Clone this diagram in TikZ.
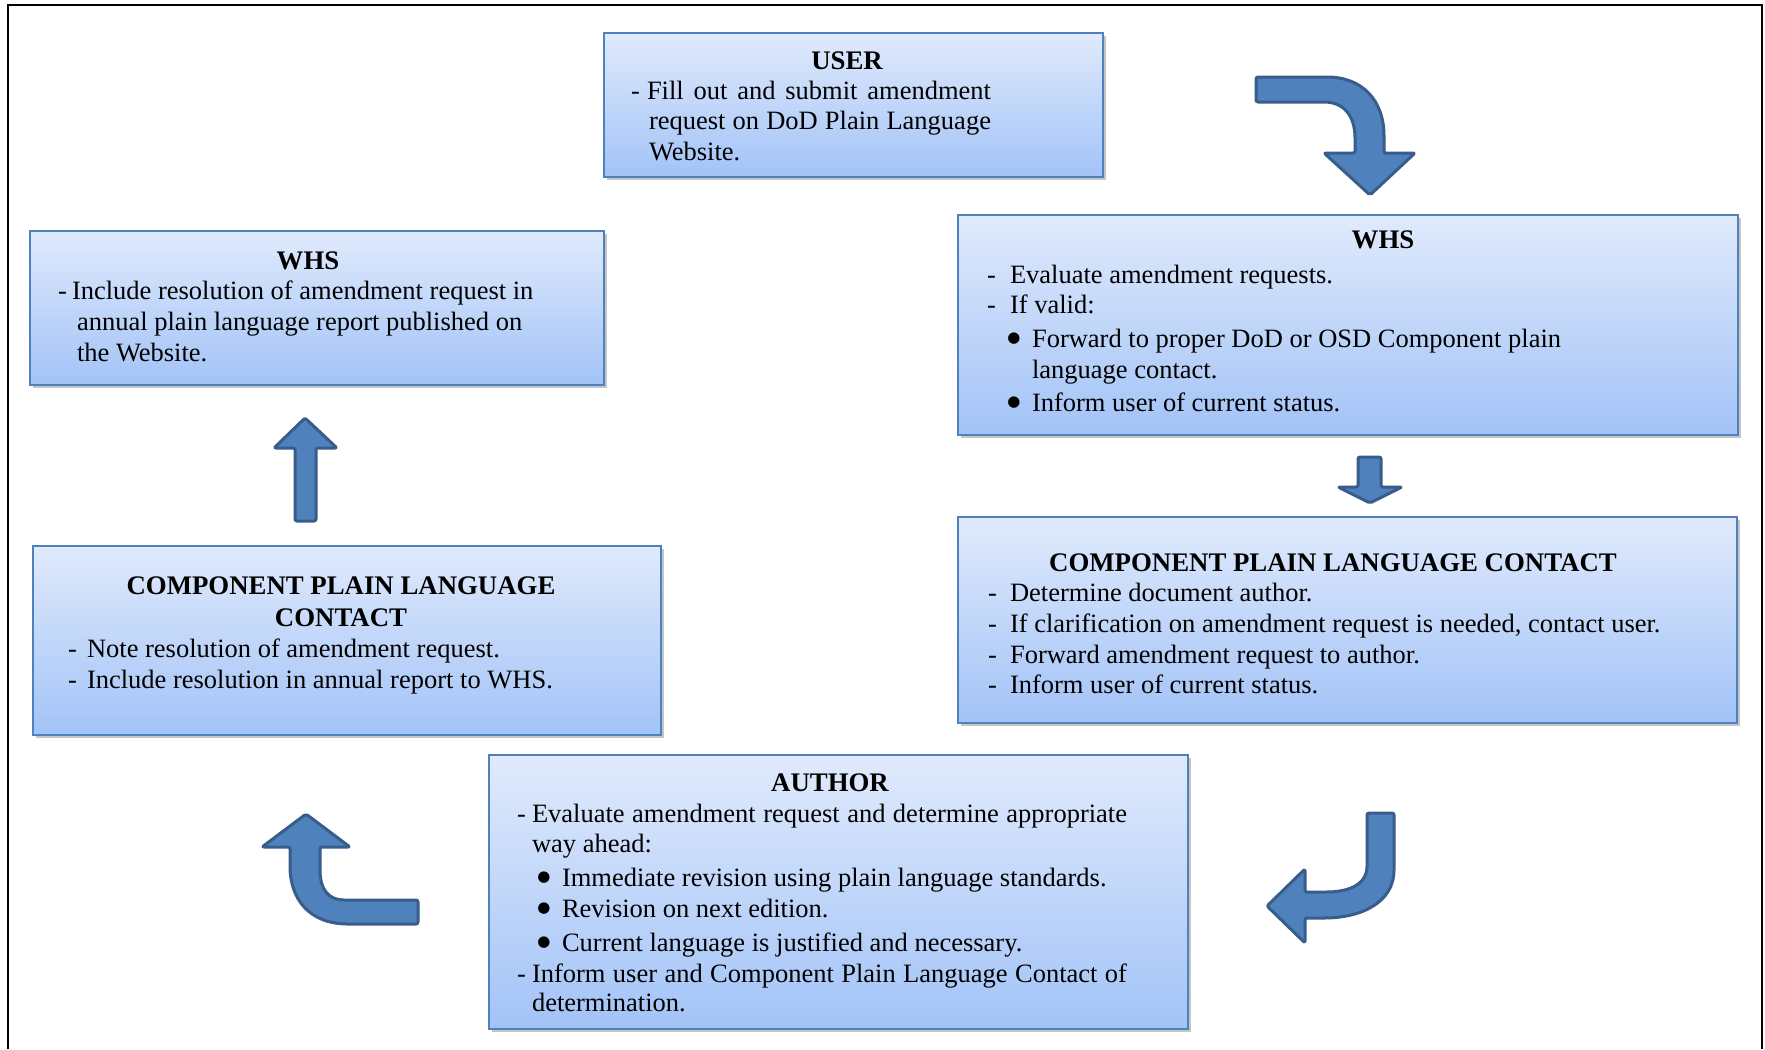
\documentclass[tikz,border=0pt]{standalone}
\usepackage{fontspec}
\setmainfont{Liberation Serif}
\newfontfamily\bulfont{DejaVu Sans}
\usetikzlibrary{shadows,fit}
\definecolor{boxtop}{RGB}{224,234,252}
\definecolor{boxbot}{RGB}{162,195,247}
\definecolor{boxline}{RGB}{79,129,189}
\definecolor{arrfill}{RGB}{79,129,189}
\definecolor{arrline}{RGB}{56,93,138}
\tikzset{
 flowbox/.style={draw=boxline, line width=1pt, top color=boxtop, bottom color=boxbot, inner sep=0pt, outer sep=0pt,
   drop shadow={shadow xshift=1.5pt, shadow yshift=-1.5pt, fill=black!50, opacity=0.45}},
 txt/.style={inner sep=0pt, outer sep=0pt, font=\fontsize{13.25}{15}\selectfont, anchor=base west, text=black},
 ttl/.style={txt, anchor=base, font=\fontsize{13.4}{15}\selectfont\bfseries},
 bul/.style={inner sep=0pt, outer sep=0pt, anchor=center, text=black, font=\bulfont\fontsize{7.5}{8}\selectfont},
 blockarrow/.style={fill=arrfill, draw=arrline, line width=1.5pt, line join=round, rounded corners=1pt},
 frameline/.style={line width=1.2pt, draw=black}
}
\newcommand{\jl}[2]{\makebox[#1][s]{#2}}
\begin{document}
\begin{tikzpicture}[x=0.5pt,y=-0.5pt]
\useasboundingbox (0,0) rectangle (1765,1049);
\fill[white] (0,0) rectangle (1765,1049);
% outer frame
\draw[frameline] (8,1049) -- (8,5) -- (1762,5) -- (1762,1049);

% boxes
\node[flowbox, fit={(604,33) (1103,177)}] (user) {};
\node[flowbox, fit={(958,215) (1738,435)}] (whsr) {};
\node[flowbox, fit={(30,231) (604,385)}] (whsl) {};
\node[flowbox, fit={(958,517) (1737,723)}] (cplcr) {};
\node[flowbox, fit={(33,546) (661,735)}] (cplcl) {};
\node[flowbox, fit={(489,755) (1188,1029)}] (author) {};

% USER text
\node[ttl] (userT) at (847,69) {USER};
\node[txt] (userD1) at (631,99) {-};
\node[txt] (userL1) at (647,99) {\jl{172pt}{Fill out and submit amendment}};
\node[txt] (userL2) at (649,129) {\jl{171pt}{request on DoD Plain Language}};
\node[txt] (userL3) at (649,160) {Website.};

% WHS right
\node[ttl] (whsrT) at (1383,248) {WHS};
\node[txt] (whsrD1) at (987,283) {-};
\node[txt] (whsrL1) at (1010,283) {Evaluate amendment requests.};
\node[txt] (whsrD2) at (987,313) {-};
\node[txt] (whsrL2) at (1010,313) {If valid:};
\node[bul] (whsrB1) at (1014,339) {●};
\node[txt] (whsrL3) at (1032,347) {Forward to proper DoD or OSD Component plain};
\node[txt] (whsrL4) at (1032,378) {language contact.};
\node[bul] (whsrB2) at (1014,403) {●};
\node[txt] (whsrL5) at (1032,411) {Inform user of current status.};

% CPLC right
\node[ttl] (cplcrT) at (1333,571) {COMPONENT PLAIN LANGUAGE CONTACT};
\node[txt] (cplcrD1) at (988,601) {-};
\node[txt] (cplcrL1) at (1010,601) {Determine document author.};
\node[txt] (cplcrD2) at (988,632) {-};
\node[txt] (cplcrL2) at (1010,632) {If clarification on amendment request is needed, contact user.};
\node[txt] (cplcrD3) at (988,663) {-};
\node[txt] (cplcrL3) at (1010,663) {Forward amendment request to author.};
\node[txt] (cplcrD4) at (988,693) {-};
\node[txt] (cplcrL4) at (1010,693) {Inform user of current status.};

% WHS left
\node[ttl] (whslT) at (308,269) {WHS};
\node[txt] (whslD1) at (58,299) {-};
\node[txt] (whslL1) at (72,299) {Include resolution of amendment request in};
\node[txt] (whslL2) at (77,330) {annual plain language report published on};
\node[txt] (whslL3) at (77,361) {the Website.};

% CPLC left
\node[ttl] (cplclT1) at (341,594) {COMPONENT PLAIN LANGUAGE};
\node[ttl] (cplclT2) at (341,626) {CONTACT};
\node[txt] (cplclD1) at (68,657) {-};
\node[txt] (cplclL1) at (87,657) {Note resolution of amendment request.};
\node[txt] (cplclD2) at (68,688) {-};
\node[txt] (cplclL2) at (87,688) {Include resolution in annual report to WHS.};

% AUTHOR
\node[ttl] (authorT) at (830,791) {AUTHOR};
\node[txt] (authorD1) at (517,822) {-};
\node[txt] (authorL1) at (532,822) {\jl{297.5pt}{Evaluate amendment request and determine appropriate}};
\node[txt] (authorL2) at (532,852) {way ahead:};
\node[bul] (authorB1) at (544,878) {●};
\node[txt] (authorL3) at (562,886) {Immediate revision using plain language standards.};
\node[bul] (authorB2) at (544,909) {●};
\node[txt] (authorL4) at (562,917) {Revision on next edition.};
\node[bul] (authorB3) at (544,943) {●};
\node[txt] (authorL5) at (562,951) {Current language is justified and necessary.};
\node[txt] (authorD2) at (517,982) {-};
\node[txt] (authorL6) at (532,982) {\jl{297.5pt}{Inform user and Component Plain Language Contact of}};
\node[txt] (authorL7) at (532,1011) {determination.};

% block arrows
% USER -> WHS (curved right/down)
\draw[blockarrow] (1256,77) -- (1325,77) .. controls (1362,77) and (1384,100) .. (1384,138) -- (1384,153) -- (1415,153) -- (1370,195) -- (1324,153) -- (1355,153) -- (1355,140) .. controls (1355,116) and (1344,102) .. (1322,102) -- (1256,102) -- cycle;
% WHS -> CPLC (down)
\draw[blockarrow] (1358,457) -- (1381,457) -- (1381,487) -- (1402,487) -- (1370,503) -- (1338,487) -- (1358,487) -- cycle;
% CPLC -> AUTHOR (curved down/left)
\draw[blockarrow] (1367,813) -- (1394,813) -- (1394,868) .. controls (1394,902) and (1362,918) .. (1322,918) -- (1305,918) -- (1305,943) -- (1267,906) -- (1305,869) -- (1305,892) -- (1324,892) .. controls (1350,892) and (1367,884) .. (1367,864) -- cycle;
% AUTHOR -> CPLC left (curved left/up)
\draw[blockarrow] (306,814) -- (350,847) -- (320,847) -- (320,868) .. controls (320,890) and (329,900) .. (346,900) -- (418,900) -- (418,924) -- (350,924) .. controls (310,924) and (290,900) .. (290,864) -- (290,847) -- (262,847) -- cycle;
% CPLC left -> WHS left (up)
\draw[blockarrow] (305,418) -- (337,448) -- (316,448) -- (316,521) -- (295,521) -- (295,448) -- (274,448) -- cycle;
\end{tikzpicture}
\end{document}
